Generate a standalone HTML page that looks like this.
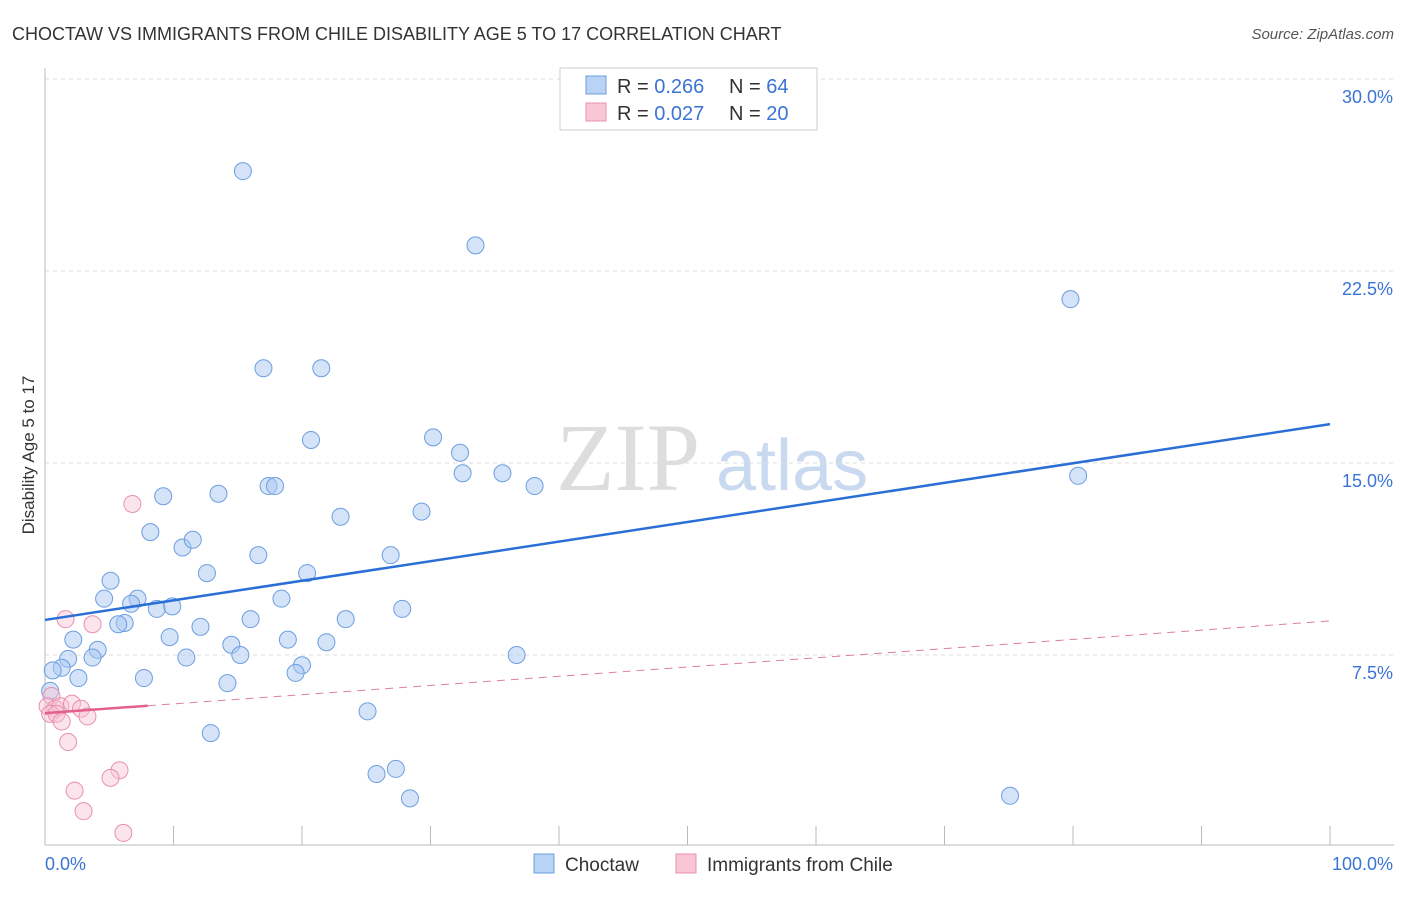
<!DOCTYPE html>
<html><head><meta charset="utf-8">
<style>
body{margin:0;background:#fff;font-family:"Liberation Sans",sans-serif;}
</style></head><body>
<svg id="c" width="1406" height="892" xmlns="http://www.w3.org/2000/svg" font-family="Liberation Sans, sans-serif">
<text x="12" y="40" font-size="18" fill="#333">CHOCTAW VS IMMIGRANTS FROM CHILE DISABILITY AGE 5 TO 17 CORRELATION CHART</text>
<text x="1394" y="39" font-size="15" fill="#555" text-anchor="end" font-style="italic">Source: ZipAtlas.com</text>
<text x="556" y="490" font-size="96" fill="#ddd" font-family="Liberation Serif, serif">ZIP</text>
<text x="716" y="490" font-size="72" fill="#c9d9ef">atlas</text>
<text transform="translate(34,455) rotate(-90)" font-size="17" fill="#333" text-anchor="middle">Disability Age 5 to 17</text>
<g id="grid"></g><g id="marks"></g>
<g>
<rect x="560" y="68" width="257" height="62" fill="#fff" stroke="#ccc"/>
<rect x="586" y="76" width="20" height="18" fill="#b9d3f5" stroke="#6c9ee0"/>
<rect x="586" y="103" width="20" height="18" fill="#f9c6d6" stroke="#e890ae"/>
<text x="617" y="93" font-size="20" fill="#333">R = <tspan fill="#3a74d4">0.266</tspan></text>
<text x="729" y="93" font-size="20" fill="#333">N = <tspan fill="#3a74d4">64</tspan></text>
<text x="617" y="120" font-size="20" fill="#333">R = <tspan fill="#3a74d4">0.027</tspan></text>
<text x="729" y="120" font-size="20" fill="#333">N = <tspan fill="#3a74d4">20</tspan></text>
</g>
<g>
<rect x="534" y="854" width="20" height="19" fill="#b9d3f5" stroke="#6c9ee0"/>
<text x="565" y="871" font-size="19" fill="#333">Choctaw</text>
<rect x="676" y="854" width="20" height="19" fill="#f9c6d6" stroke="#e890ae"/>
<text x="707" y="871" font-size="19" fill="#333">Immigrants from Chile</text>
</g>
</svg>
<script>
const yTicks=[7.5,15,22.5,30];
const yTickLabels=["7.5%","15.0%","22.5%","30.0%"];
const xTickLabels=["0.0%","100.0%"];
const blueX=[15.4,33.5,79.8,17.0,21.5,20.7,30.2,32.3,32.5,35.6,38.1,80.4,9.2,13.5,17.4,17.9,23.0,29.3,8.2,10.7,11.5,16.6,26.9,12.6,20.4,5.1,4.6,7.2,6.7,8.7,9.9,18.4,27.8,16.0,23.4,6.2,5.7,12.1,9.7,2.2,14.5,18.9,21.9,4.1,3.7,1.8,11.0,15.2,36.7,1.3,0.6,20.0,19.5,2.6,7.7,14.2,0.4,25.1,12.9,25.8,27.3,28.4,75.1];
const blueY=[26.4,23.5,21.4,18.7,18.7,15.9,16.0,15.4,14.6,14.6,14.1,14.5,13.7,13.8,14.1,14.1,12.9,13.1,12.3,11.7,12.0,11.4,11.4,10.7,10.7,10.4,9.7,9.7,9.5,9.3,9.4,9.7,9.3,8.9,8.9,8.75,8.7,8.6,8.2,8.1,7.9,8.1,8.0,7.7,7.4,7.35,7.4,7.5,7.5,7.0,6.9,7.1,6.8,6.6,6.6,6.4,6.1,5.3,4.45,2.85,3.05,1.9,2.0];
const pinkX=[6.8,1.6,3.7,0.5,0.2,0.8,1.2,2.1,2.8,0.4,0.9,3.3,1.3,1.8,5.8,5.1,2.3,3.0,6.1];
const pinkY=[13.4,8.9,8.7,5.9,5.5,5.4,5.5,5.6,5.4,5.2,5.2,5.1,4.9,4.1,3.0,2.7,2.2,1.4,0.55];
const blueLine=[8.87,16.52];
const pinkLine=[5.23,8.83];
const X=v=>45+v*12.85, Y=v=>847-v*25.6;
const ns="http://www.w3.org/2000/svg";
function mk(t,a,p){const e=document.createElementNS(ns,t);for(const k in a)e.setAttribute(k,a[k]);p.appendChild(e);return e;}
const g=document.getElementById('grid'), m=document.getElementById('marks');
yTicks.forEach((t,i)=>{const l=mk('line',{x1:45,x2:1394,y1:Y(t),y2:Y(t),stroke:'#ddd','stroke-dasharray':'4,4'},g);

const tx=mk('text',{x:1393,y:Y(t)+24,'font-size':18,fill:'#3a74d4','text-anchor':'end'},g);tx.textContent=yTickLabels[i];
});
const ax=mk('line',{x1:45,x2:45,y1:68,y2:845,stroke:'#bbb'},g);
const bx=mk('line',{x1:45,x2:1394,y1:845,y2:845,stroke:'#bbb'},g);
for(let i=0;i<=10;i++){const t=mk('line',{x1:X(i*10),x2:X(i*10),y1:826,y2:845,stroke:'#bbb'},g);}
[[0,'start',45],[100,'end',1393]].forEach((d,i)=>{const t=mk('text',{x:d[2],y:870,'font-size':18,fill:'#3a74d4','text-anchor':d[1]},g);t.textContent=xTickLabels[i];});
blueX.forEach((x,i)=>{const c=mk('circle',{cx:X(x),cy:Y(blueY[i]),r:8.5,fill:'rgba(170,200,242,0.5)',stroke:'#6c9ee0','stroke-width':1},m);
});
pinkX.forEach((x,i)=>{const c=mk('circle',{cx:X(x),cy:Y(pinkY[i]),r:8.5,fill:'rgba(249,195,213,0.45)',stroke:'#e890ae','stroke-width':1},m);
});
let l=mk('line',{x1:X(0),y1:Y(blueLine[0]),x2:X(100),y2:Y(blueLine[1]),stroke:'#2a6fd6','stroke-width':2.5},m);

const pY=v=>pinkLine[0]+(pinkLine[1]-pinkLine[0])*v/100;
l=mk('line',{x1:X(8),y1:Y(pY(8)),x2:X(100),y2:Y(pY(100)),stroke:'#e07fa0','stroke-width':1,'stroke-dasharray':'8,6'},m);

l=mk('line',{x1:X(0),y1:Y(pY(0)),x2:X(8),y2:Y(pY(8)),stroke:'#e0608f','stroke-width':2.5},m);

</script>
</body></html>
